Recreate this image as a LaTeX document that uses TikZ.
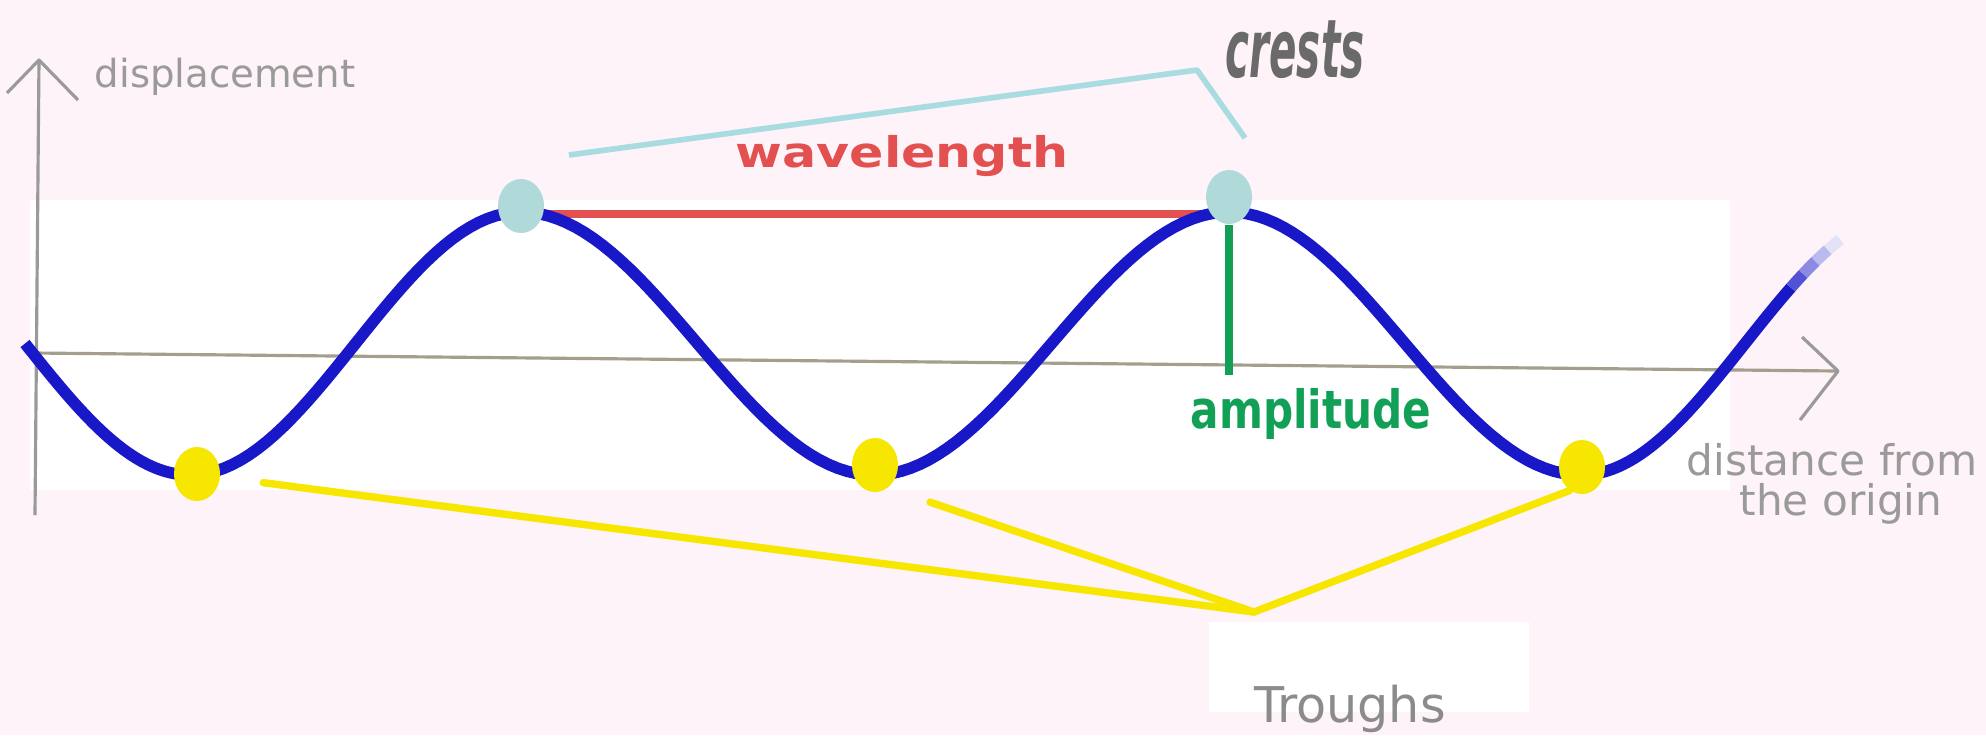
\documentclass[tikz,border=0pt]{standalone}
\usepackage{fontspec}
\setmainfont{DejaVu Sans}
\usepackage{graphicx}
\usepackage{tikz}
\usetikzlibrary{shapes.geometric,calc,backgrounds}
\definecolor{paper}{HTML}{FDF3F8}
\definecolor{wave}{HTML}{1818C8}
\definecolor{axis}{HTML}{A39F8C}
\definecolor{muted}{HTML}{9A9A9A}
\definecolor{crest}{HTML}{AFDAD9}
\definecolor{pointer}{HTML}{A8DCE0}
\definecolor{trough}{HTML}{F6E600}
\definecolor{accent}{HTML}{E25050}
\definecolor{amp}{HTML}{12A056}
\definecolor{ink}{HTML}{6A6A6A}

\begin{document}
\begin{tikzpicture}[x=0.01cm, y=-0.01cm,
    dot/.style={ellipse, inner sep=0pt, minimum width=0.46cm, minimum height=0.54cm},
    crestdot/.style={dot, fill=crest},
    troughdot/.style={dot, fill=trough},
    tline/.style={trough, line width=2.1pt, line cap=round, line join=round},
    wavepen/.style={line width=3.3pt},
    lbl/.style={inner sep=0pt, text=muted, font=\fontsize{12}{14}\selectfont}]
    \useasboundingbox (0,0) rectangle (1986,735);
    % dots on the wave
    \node[crestdot] (crestA) at (521,206) {};
    \node[crestdot] (crestB) at (1229,197) {};
    \node[troughdot] (troughA) at (197,474) {};
    \node[troughdot] (troughB) at (875,465) {};
    \node[troughdot] (troughC) at (1582,467) {};
    \coordinate (apex) at (1197,70);
    \coordinate (meet) at (1254,612);
    \begin{scope}[on background layer]
      \fill[paper] (0,0) rectangle (1986,735);
      \fill[white] (30,200) rectangle (1730,490);
      \node[fill=white, inner sep=0pt, minimum width=3.19cm, minimum height=0.9cm] (tbox) at (1369,667) {};
      % axes
      \draw[muted, line width=0.9pt] (35,515) -- (39,60);
      \draw[muted, line width=0.9pt, line join=round] (7,93) -- (39,60) -- (78,100);
      \draw[axis, line width=0.9pt] (35,353) -- (1838,371);
      \draw[muted, line width=0.9pt, line join=round] (1802,337) -- (1838,371) -- (1800,420);
      % wavelength and amplitude
      \draw[accent, line width=2.3pt] (crestA.-20) -- (crestA.-20 -| crestB.west);
      \draw[amp, line width=2.4pt] (crestB) -- ++(0,178);
      % wave, one half period at a time
      \foreach \xa/\ya/\xb/\yb/\ta/\tb in {-140/212/190/475/0.5/1, 190/475/521/212/0/1,
          521/212/874/475/0/1, 874/475/1229/212/0/1, 1229/212/1581/475/0/1, 1581/475/1909/212/0/0.64}
        \draw[wave, wavepen] plot[domain=\ta:\tb, samples=40, variable=\t]
          ({\xa+(\xb-\xa)*\t}, {(\ya+\yb)/2+(\ya-\yb)/2*cos(180*\t)});
      % fading tail
      \foreach \c [count=\k from 0, evaluate=\k as \ta using 0.64+0.0375*\k,
          evaluate=\k as \tb using 0.6775+0.0375*\k] in {75,50,30,12}
        \draw[wave!\c, wavepen] plot[domain=\ta:\tb, samples=6, variable=\t]
          ({1581+328*\t}, {343.5+131.5*cos(180*\t)});
    \end{scope}
    % pointers
    \draw[pointer, line width=1.6pt, line join=round] ($(crestA)+(48,-51)$) -- (apex) -- ($(crestB)+(16,-59)$);
    \draw[tline, shorten <=0.43cm] (troughA) -- (meet);
    \draw[tline, shorten <=0.44cm] (troughB.-60) -- (meet);
    \draw[tline] (meet) -- (troughC.-118);
    % labels
    \node[lbl, anchor=base west, font=\fontsize{11}{13}\selectfont] (dispLbl) at (94,87) {displacement};
    \node[lbl, anchor=base] (distLbl) at (1832,475) {distance from};
    \node[lbl, anchor=base] (originLbl) at (1841,515) {the origin};
    \node[inner sep=0pt, anchor=base, text=accent, font=\bfseries\fontsize{12}{14}\selectfont] (waveLbl) at (902,167) {\scalebox{1.2}[1]{wavelength}};
    \node[inner sep=0pt, anchor=base, text=amp, font=\bfseries\fontsize{15}{17}\selectfont] (ampLbl) at (1311,428) {\scalebox{0.8}[1]{amplitude}};
    \node[inner sep=0pt, text=ink, font=\bfseries\itshape\fontsize{23}{25}\selectfont] (crestLbl) at (1295,50) {\scalebox{0.5}[1]{crests}};
    \node[lbl, anchor=base, text=muted!90!black, font=\fontsize{14}{16}\selectfont] (troughLbl) at (1350,722) {Troughs};
\end{tikzpicture}
\end{document}
